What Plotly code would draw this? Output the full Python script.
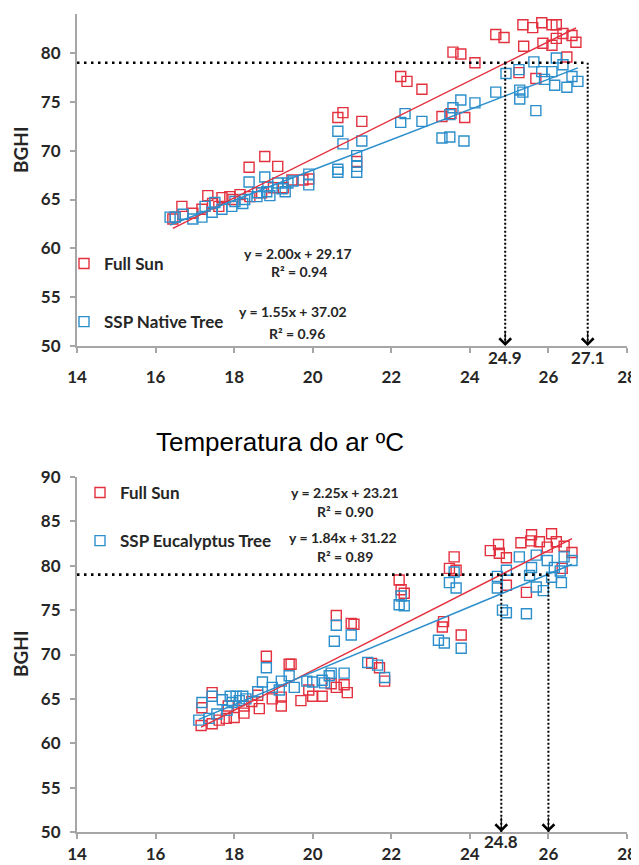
import plotly.graph_objects as go

# ---------------- data ----------------
x_ticks = [14, 16, 18, 20, 22, 24, 26, 28]
tick_labels = ["14", "16", "18", "20", "22", "24", "26", "28"]
top_y_ticks = [50, 55, 60, 65, 70, 75, 80]
bot_y_ticks = [50, 55, 60, 65, 70, 75, 80, 85, 90]

# Top panel: Full Sun vs SSP Native Tree
top_sun_x = [16.44, 16.5, 16.67, 16.95, 17.18, 17.33, 17.45, 17.61, 17.69, 17.89, 17.97, 18.15,
             18.38, 18.4, 18.7, 18.78, 19.0, 19.11, 19.25, 19.47, 19.75, 19.9,
             20.64, 20.77, 21.25, 21.12,
             22.24, 22.4, 22.78, 23.29, 23.52, 23.87, 23.57, 23.77, 24.13, 24.66, 24.87,
             25.25, 25.68, 25.35, 25.37, 25.6, 25.83, 25.86, 26.09, 26.09, 26.2, 26.2,
             26.37, 26.47, 26.6, 26.7]
top_sun_y = [63.0, 63.2, 64.3, 63.6, 64.0, 65.4, 64.6, 64.3, 65.2, 65.3, 65.0, 65.5,
             68.3, 65.3, 65.7, 69.4, 66.2, 68.4, 66.2, 67.0, 67.0, 67.1,
             73.4, 73.9, 73.0, 68.9,
             77.6, 77.1, 76.3, 73.5, 73.8, 73.4, 80.1, 79.9, 79.0, 81.9, 81.6,
             78.0, 77.4, 82.9, 80.7, 82.6, 83.1, 81.0, 82.9, 80.8, 82.9, 81.5,
             82.0, 79.6, 81.8, 81.1]
top_tree_x = [16.37, 16.5, 16.7, 16.95, 17.18, 17.26, 17.44, 17.51, 17.69, 17.94, 18.02, 18.22,
              18.27, 18.38, 18.58, 18.6, 18.78, 18.83, 18.86, 18.91, 19.11, 19.22, 19.3, 19.37,
              19.5, 19.9, 19.9,
              20.64, 20.77, 20.64, 20.64, 21.12, 21.12, 21.25, 21.12,
              22.24, 22.35, 22.78, 23.29, 23.49, 23.85, 23.49, 23.57, 23.77, 24.13, 24.66,
              24.92, 25.25, 25.27, 25.35, 25.27, 25.68, 25.63, 25.83, 25.9, 26.09, 26.16,
              26.2, 26.37, 26.47, 26.6, 26.75]
top_tree_y = [63.2, 63.2, 63.5, 63.0, 63.2, 64.3, 63.7, 64.7, 64.0, 64.3, 64.8, 64.6,
              65.0, 66.8, 65.3, 65.7, 67.3, 65.8, 66.3, 65.4, 66.7, 66.1, 65.8, 66.7,
              66.9, 67.6, 66.5,
              72.0, 70.7, 68.1, 67.8, 68.4, 67.8, 71.0, 69.5,
              72.9, 73.8, 73.0, 71.3, 71.4, 71.0, 73.7, 74.4, 75.2, 74.9, 76.0,
              77.9, 78.3, 76.2, 76.0, 75.3, 74.1, 79.1, 78.1, 77.3, 78.1, 76.7,
              79.5, 78.8, 76.5, 77.6, 77.1]

# Bottom panel: Full Sun vs SSP Eucalyptus Tree
bot_sun_x = [17.16, 17.44, 17.62, 17.8, 18.0, 18.25, 18.25, 17.44, 17.18, 18.64, 18.82, 19.4,
             19.45, 19.2, 19.2, 18.97, 19.7, 19.9, 18.45, 17.85, 18.6,
             20.6, 20.98, 21.05, 20.24, 20.47, 20.88, 20.8, 20.6, 21.5, 21.7, 21.83, 20.0,
             22.2, 22.25, 22.33, 23.3, 23.33, 23.78, 23.6, 23.48, 23.65,
             24.52, 24.73, 24.75, 24.93, 24.93, 25.3, 25.57, 25.55, 25.77, 25.97, 26.08,
             26.2, 26.4, 26.6, 26.35, 25.44]
bot_sun_y = [62.0, 62.2, 62.6, 62.8, 62.9, 63.4, 64.2, 65.7, 64.0, 63.9, 69.8, 68.9,
             68.9, 65.2, 64.2, 65.0, 64.8, 66.0, 64.7, 64.2, 65.4,
             74.4, 73.5, 73.4, 65.3, 66.7, 65.7, 66.6, 66.3, 69.0, 68.5, 67.0, 65.3,
             78.4, 77.3, 76.9, 73.1, 73.7, 72.2, 81.0, 79.7, 79.5,
             81.7, 82.4, 81.4, 80.9, 77.8, 82.6, 83.5, 82.8, 82.7, 82.1, 83.6,
             82.7, 82.2, 81.5, 79.7, 77.0]
bot_tree_x = [17.1, 17.36, 17.56, 17.82, 17.95, 18.13, 18.3, 17.18, 17.44, 17.7, 17.9, 18.05,
              18.22, 18.6, 18.72, 18.82, 19.2, 19.4, 19.53, 19.85, 18.97, 19.15,
              20.6, 20.55, 20.98, 21.4, 21.65, 21.83, 20.47, 20.8, 20.24, 20.0, 20.42, 20.3,
              22.2, 22.33, 22.25, 23.2, 23.35, 23.78, 23.48, 23.65, 23.6,
              24.7, 24.93, 24.7, 24.83, 24.93, 25.44, 25.26, 25.69, 25.97, 26.4, 26.6,
              26.15, 26.3, 26.08, 26.33, 25.57, 25.52, 25.69, 25.87]
bot_tree_y = [62.6, 62.8, 63.3, 63.7, 64.6, 64.8, 65.0, 64.6, 65.3, 64.9, 65.3, 65.3,
              65.3, 65.8, 66.9, 68.5, 67.0, 67.6, 66.3, 67.0, 66.3, 66.0,
              73.3, 71.5, 72.2, 69.1, 68.8, 67.4, 67.9, 67.9, 67.1, 66.9, 67.6, 66.8,
              75.6, 75.5, 76.6, 71.6, 71.3, 70.7, 78.1, 77.5, 79.3,
              78.8, 79.5, 77.5, 75.0, 74.7, 74.6, 81.0, 81.2, 80.6, 81.0, 80.6,
              79.8, 79.4, 78.7, 78.1, 79.8, 78.9, 77.6, 77.2]

# regression results printed on the chart
top_fit = {"sun": (2.00, 29.17, 0.94), "tree": (1.55, 37.02, 0.96)}
bot_fit = {"sun": (2.25, 23.21, 0.90), "tree": (1.84, 31.22, 0.89)}

threshold_bghi = 79
top_cross_x = [24.9, 27.0]
top_cross_labels = ["24.9", "27.1"]
bot_cross_x = [24.8, 26.0]
bot_cross_labels = ["24.8", ""]

# ---------------- styling ----------------
RED = "#e3313f"
BLUE = "#2c8fcc"
TXT = "#262626"
AX = "#a6a6a6"
FONT = "Lato"

OFF = 8  # the page body margin shifts the figure by 8px
W, H = 639 - OFF, 865 - OFF
PLOT_L, PLOT_R, PLOT_T, PLOT_B = 77, 627, 14, 832  # plot area in screenshot pixels
ML, MT = PLOT_L - OFF, PLOT_T - OFF
MR = W - (PLOT_R - OFF)
MB = H - (PLOT_B - OFF)
PW, PH = PLOT_R - PLOT_L, PLOT_B - PLOT_T


def px_x(px):
    return (px - PLOT_L) / PW


def px_y(py):
    return (PLOT_B - py) / PH


fig = go.Figure()


def add_panel(xs_s, ys_s, xs_t, ys_t, fit, xa, ya, legend, tree_name):
    for name, xs, ys, col, grp in [("Full Sun", xs_s, ys_s, RED, "a"),
                                    (tree_name, xs_t, ys_t, BLUE, "b")]:
        fig.add_trace(go.Scatter(
            x=xs, y=ys, mode="markers", name=name, xaxis=xa, yaxis=ya,
            legend=legend, legendgroup=legend + grp,
            marker=dict(symbol="square-open", size=10, color=col, line=dict(width=1.4, color=col)),
        ))
    for xs, col, key in [(xs_s, RED, "sun"), (xs_t, BLUE, "tree")]:
        m, b, _ = fit[key]
        x0, x1 = min(xs), max(xs)
        fig.add_trace(go.Scatter(
            x=[x0, x1], y=[m * x0 + b, m * x1 + b], mode="lines", showlegend=False,
            xaxis=xa, yaxis=ya, line=dict(color=col, width=1.5), hoverinfo="skip",
        ))


add_panel(top_sun_x, top_sun_y, top_tree_x, top_tree_y, top_fit, "x", "y", "legend", "SSP Native Tree")
add_panel(bot_sun_x, bot_sun_y, bot_tree_x, bot_tree_y, bot_fit, "x2", "y2", "legend2", "SSP Eucalyptus Tree")

tickfont = dict(family=FONT, size=17, color=TXT, weight="bold")
axis_common = dict(showgrid=False, zeroline=False, showline=True, linecolor=AX, linewidth=2,
                   ticks="outside", ticklen=5, tickcolor=AX, tickwidth=1.5, tickfont=tickfont,
                   automargin=False)

fig.update_layout(
    width=W, height=H, margin=dict(l=ML, r=MR, t=MT, b=MB, autoexpand=False),
    paper_bgcolor="white", plot_bgcolor="white",
    xaxis=dict(domain=[0, 1], range=[14, 28], tickvals=x_ticks, ticktext=tick_labels,
               anchor="y", ticklabelstandoff=10, **axis_common),
    yaxis=dict(domain=[px_y(346), 1], range=[50, 84], tickvals=top_y_ticks, anchor="x",
               ticklabelstandoff=6, **axis_common),
    xaxis2=dict(domain=[0, 1], range=[14, 28], tickvals=x_ticks, ticktext=tick_labels,
                anchor="y2", ticklabelstandoff=1, **axis_common),
    yaxis2=dict(domain=[0, px_y(477)], range=[50, 90], tickvals=bot_y_ticks, anchor="x2",
                ticklabelstandoff=6, **axis_common),
    legend=dict(x=px_x(64), y=px_y(246), xanchor="left", yanchor="top", bgcolor="rgba(0,0,0,0)",
                font=dict(family=FONT, size=17, color=TXT, weight="bold"), tracegroupgap=33,
                itemwidth=30),
    legend2=dict(x=px_x(80), y=px_y(475), xanchor="left", yanchor="top", bgcolor="rgba(0,0,0,0)",
                 font=dict(family=FONT, size=17, color=TXT, weight="bold"), tracegroupgap=23,
                 itemwidth=30),
)

# reference lines (BGHI threshold and crossing temperatures)
dot_h = dict(color="black", width=2.6, dash="2.5px,4.5px")
dot_v = dict(color="black", width=2, dash="2px,2px")
fig.add_shape(type="line", xref="x", yref="y", x0=14, x1=max(top_cross_x),
              y0=threshold_bghi, y1=threshold_bghi, line=dot_h)
fig.add_shape(type="line", xref="x2", yref="y2", x0=14, x1=max(bot_cross_x),
              y0=threshold_bghi, y1=threshold_bghi, line=dot_h)
for xs, xr, yr in [(top_cross_x, "x", "y"), (bot_cross_x, "x2", "y2")]:
    for cx in xs:
        fig.add_shape(type="line", xref=xr, yref=yr, x0=cx, x1=cx, y0=threshold_bghi, y1=50, line=dot_v)
        fig.add_annotation(x=cx, y=50, xref=xr, yref=yr, text="", showarrow=True, arrowhead=4,
                           arrowsize=1.9, arrowwidth=1.2, arrowcolor="black", ax=0, ay=-16)

lab_font = dict(family=FONT, size=17, color=TXT, weight="bold")
for cx, lab in zip(top_cross_x, top_cross_labels):
    fig.add_annotation(x=cx, y=px_y(357), xref="x", yref="paper", text=lab, showarrow=False,
                       font=lab_font, xanchor="center", yanchor="middle")
for cx, lab in zip(bot_cross_x, bot_cross_labels):
    if lab:
        fig.add_annotation(x=cx, y=px_y(841), xref="x2", yref="paper", text=lab, showarrow=False,
                           font=lab_font, xanchor="center", yanchor="middle")

# equations
eq_font = dict(family=FONT, size=14, color=TXT, weight="bold")


def eq_text(m, b):
    return f"y = {m:.2f}x + {b:.2f}"


def r2_text(r):
    return f"R² = {r:.2f}"


eq_pos = [
    (top_fit["sun"], 298, 253, 299, 272),
    (top_fit["tree"], 293, 312, 297, 333),
    (bot_fit["sun"], 345, 492, 345, 511),
    (bot_fit["tree"], 343, 537, 345, 556),
]
for (m, b, r), ex, ey, rx, ry in eq_pos:
    fig.add_annotation(x=px_x(ex), y=px_y(ey), xref="paper", yref="paper", text=eq_text(m, b),
                       showarrow=False, font=eq_font, xanchor="center", yanchor="middle")
    fig.add_annotation(x=px_x(rx), y=px_y(ry), xref="paper", yref="paper", text=r2_text(r),
                       showarrow=False, font=eq_font, xanchor="center", yanchor="middle")

# axis titles
fig.add_annotation(x=px_x(280), y=px_y(442), xref="paper", yref="paper", text="Temperatura do ar ºC",
                   showarrow=False, font=dict(family="Liberation Sans", size=26, color="black"),
                   xanchor="center", yanchor="middle")
for cy in (150, 654):
    fig.add_annotation(x=px_x(20), y=px_y(cy), xref="paper", yref="paper", text="BGHI", textangle=-90,
                       showarrow=False, font=dict(family=FONT, size=19, color=TXT, weight="bold"),
                       xanchor="center", yanchor="middle")

fig.write_html("out.html")
